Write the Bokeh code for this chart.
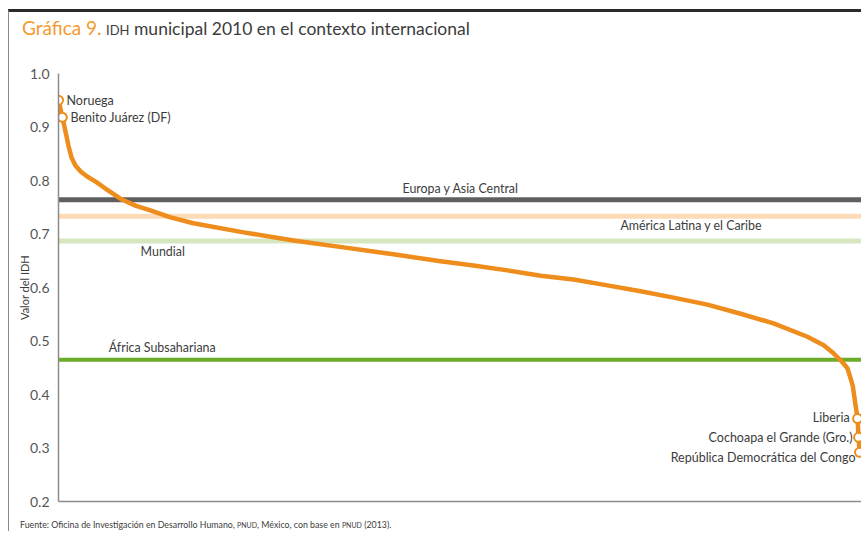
from bokeh.plotting import figure
from bokeh.layouts import column
from bokeh.models import Span, Label, FixedTicker, Range1d, PrintfTickFormatter, Div
from bokeh.embed import file_html
from bokeh.resources import INLINE

# ---------------- data ----------------
posicion = [0, 12, 21, 31, 40, 52, 68, 89, 114, 144, 190, 236, 282, 344, 414,
            568, 721, 875, 1028, 1173, 1274, 1378, 1480, 1581, 1685, 1787, 1888,
            1992, 2094, 2195, 2299, 2349, 2379, 2401, 2422, 2438, 2447, 2453,
            2456, 2459]
idh = [0.950, 0.918, 0.893, 0.864, 0.843, 0.828, 0.817, 0.807, 0.798, 0.785,
       0.766, 0.753, 0.744, 0.731, 0.720, 0.703, 0.688, 0.675, 0.662, 0.649,
       0.641, 0.632, 0.622, 0.615, 0.604, 0.593, 0.581, 0.568, 0.551, 0.533,
       0.508, 0.492, 0.477, 0.464, 0.449, 0.417, 0.379, 0.355, 0.320, 0.292]

puntos_nombre = ["Noruega", "Benito Juárez (DF)", "Liberia",
                 "Cochoapa el Grande (Gro.)", "República Democrática del Congo"]
puntos_pos = [0, 12, 2453, 2456, 2459]
puntos_idh = [0.950, 0.918, 0.355, 0.320, 0.292]

regiones = ["Europa y Asia Central", "América Latina y el Caribe", "Mundial",
            "África Subsahariana"]
regiones_idh = [0.764, 0.733, 0.687, 0.465]

y_ticks = [0.2, 0.3, 0.4, 0.5, 0.6, 0.7, 0.8, 0.9, 1.0]

# ---------------- styles ----------------
FONT = "Lato"
ORANGE = "#EE8C1C"
TXT = "#3c3c3c"
region_colors = ["#5f5f5f", "#FDDBB6", "#D6E7C0", "#6AAB27"]
region_widths = [5, 5, 5, 4]
region_label_x = [1056, 1725, 252, 154]
region_label_dy = [11, -9, -11, 12]

W = 852

titulo = Div(
    text=('<span style="color:#F39A2E;font-size:19px">Gráfica 9.</span> '
          '<span style="font-size:13px">IDH</span> '
          'municipal 2010 en el contexto internacional'),
    width=W, height=34, margin=0,
    styles={"font-family": FONT, "font-size": "17.5px", "color": TXT,
            "line-height": "32px", "padding-left": "13px", "white-space": "nowrap"})

p = figure(width=W, height=471, output_backend="svg", toolbar_location=None,
           x_range=Range1d(0, 2465), y_range=Range1d(0.2, 1.0),
           min_border_left=49, min_border_right=0, min_border_top=27,
           min_border_bottom=16, margin=0)
p.outline_line_color = None
p.xgrid.visible = False
p.ygrid.visible = False

# axes
p.yaxis.ticker = FixedTicker(ticks=y_ticks)
p.yaxis.formatter = PrintfTickFormatter(format="%.1f")
p.yaxis.major_tick_line_color = None
p.yaxis.minor_tick_line_color = None
p.yaxis.major_tick_out = 0
p.yaxis.major_label_standoff = 9
p.yaxis.major_label_text_font = FONT
p.yaxis.major_label_text_font_size = "14px"
p.yaxis.major_label_text_color = "#555555"
p.yaxis.axis_line_color = "#8c8c8c"
p.yaxis.axis_line_width = 1.5
p.yaxis.axis_label = "Valor del IDH"
p.yaxis.axis_label_text_font = FONT
p.yaxis.axis_label_text_font_size = "11px"
p.yaxis.axis_label_text_font_style = "normal"
p.yaxis.axis_label_text_color = TXT
p.yaxis.axis_label_standoff = -4

p.xaxis.ticker = FixedTicker(ticks=[])
p.xaxis.major_tick_line_color = None
p.xaxis.minor_tick_line_color = None
p.xaxis.major_tick_out = 0
p.xaxis.major_label_standoff = 0
p.xaxis.axis_line_color = "#8c8c8c"
p.xaxis.axis_line_width = 1.5

# reference lines
for name, v, c, w, lx, dy in zip(regiones, regiones_idh, region_colors, region_widths,
                                 region_label_x, region_label_dy):
    p.add_layout(Span(location=v, dimension="width", line_color=c, line_width=w,
                      level="underlay"))
    p.add_layout(Label(x=lx, y=v, y_offset=dy, text=name, text_font=FONT,
                       text_font_size="12.4px", text_color=TXT, text_baseline="middle"))

# curve
p.line(posicion, idh, line_color=ORANGE, line_width=4.5, line_join="round")
p.scatter(puntos_pos, puntos_idh, size=9, marker="circle", fill_color="white",
          line_color=ORANGE, line_width=2)

pt_align = ["left", "left", "right", "right", "right"]
pt_dx = [8, 8, -8, -6, -4]
pt_dy = [0, 0, 1, 0, -5]
for name, x, y, a, dx, dy in zip(puntos_nombre, puntos_pos, puntos_idh, pt_align, pt_dx, pt_dy):
    p.add_layout(Label(x=x, y=y, x_offset=dx, y_offset=dy, text=name, text_font=FONT,
                       text_font_size="12.5px", text_color=TXT, text_align=a,
                       text_baseline="middle"))

fuente = Div(
    text=('Fuente: Oficina de Investigación en Desarrollo Humano, '
          '<span style="font-size:7px">PNUD</span>, México, con base en '
          '<span style="font-size:7px">PNUD</span> (2013).'),
    width=W, height=14, margin=0,
    styles={"font-family": FONT, "font-size": "8.8px", "color": TXT,
            "line-height": "16px", "padding-left": "11px", "white-space": "nowrap"})

layout = column(titulo, p, fuente, spacing=0, margin=0,
                styles={"margin-top": "9px", "margin-left": "8px",
                        "border-top": "3px solid #2a2a2a",
                        "border-left": "1px solid #8a8a8a"})

open("out.html", "w").write(file_html(layout, INLINE))
